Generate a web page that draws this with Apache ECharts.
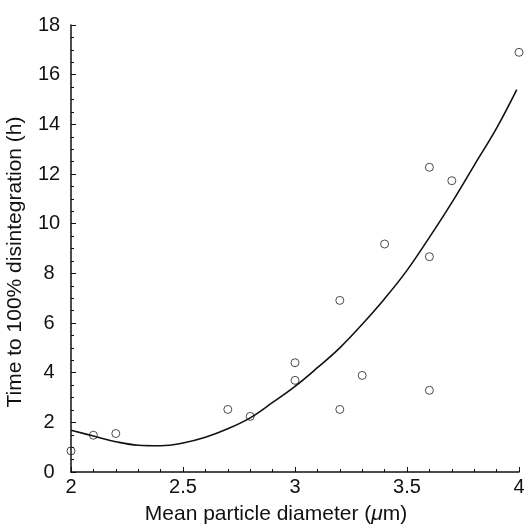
<!DOCTYPE html>
<html>
<head>
<meta charset="utf-8">
<script src="https://cdn.jsdelivr.net/npm/echarts@6/dist/echarts.min.js"></script>
<style>html,body{margin:0;padding:0;background:#fff}#c{width:524px;height:524px}</style>
</head>
<body>
<div id="c"></div>
<script>
// Observed data (mean particle diameter, time to 100% disintegration)
const pointX = [2.0, 2.1, 2.2, 2.7, 2.8, 3.0, 3.0, 3.2, 3.2, 3.3, 3.4, 3.6, 3.6, 3.6, 3.7, 4.0];
const pointY = [0.85, 1.48, 1.55, 2.52, 2.24, 4.40, 3.69, 6.91, 2.52, 3.89, 9.18, 12.27, 8.67, 3.29, 11.73, 16.9];
// Fitted curve
const curveX = [2.0, 2.1, 2.2, 2.3, 2.4, 2.5, 2.6, 2.7, 2.8, 2.9, 3.0, 3.1, 3.2, 3.3, 3.4, 3.5, 3.6, 3.7, 3.8, 3.9, 3.99];
const curveY = [1.68, 1.45, 1.22, 1.08, 1.06, 1.17, 1.40, 1.74, 2.18, 2.80, 3.45, 4.20, 5.00, 5.95, 6.98, 8.12, 9.45, 10.85, 12.35, 13.85, 15.40];
const xTicks = ['2', '2.5', '3', '3.5', '4'];

const chart = echarts.init(document.getElementById('c'), null, {renderer: 'canvas'});
const font = 'Liberation Sans, Arial, Helvetica, sans-serif';
chart.setOption({
  backgroundColor: '#fff',
  animation: false,
  grid: {left: 71, right: 5, top: 25, bottom: 52, containLabel: false, outerBoundsMode: 'none'},
  xAxis: {
    type: 'value', min: 2, max: 4, interval: 0.5,
    name: 'Mean particle diameter ({mu|μ}m)',
    nameLocation: 'middle', nameGap: 32,
    nameTextStyle: {fontFamily: font, fontSize: 21, color: '#111', padding: [0, 38, 0, 0],
      rich: {mu: {fontStyle: 'italic', fontFamily: font, fontSize: 21, color: '#111'}}},
    axisLine: {lineStyle: {color: '#111', width: 1.5}},
    axisTick: {inside: true, length: 5, lineStyle: {color: '#111'}},
    minorTick: {show: true, splitNumber: 5, length: 3, lineStyle: {color: '#111'}},
    splitLine: {show: false},
    axisLabel: {fontFamily: font, fontSize: 20, color: '#111', margin: 5, showMaxLabel: true,
      formatter: v => { const s = String(v); return xTicks.includes(s) ? s : ''; }}
  },
  yAxis: {
    type: 'value', min: 0, max: 18, interval: 2,
    name: 'Time to 100% disintegration (h)',
    nameLocation: 'middle', nameGap: 45,
    nameTextStyle: {fontFamily: font, fontSize: 21, color: '#111', padding: [0, 27, 0, 0]},
    axisLine: {show: true, lineStyle: {color: '#111', width: 1.5}},
    axisTick: {show: true, inside: true, length: 5, lineStyle: {color: '#111'}},
    minorTick: {show: true, splitNumber: 4, length: 3, lineStyle: {color: '#111'}},
    splitLine: {show: false},
    axisLabel: {fontFamily: font, fontSize: 20, color: '#111', margin: 22, align: 'center'}
  },
  series: [
    {
      type: 'line', data: curveX.map((x, i) => [x, curveY[i]]),
      smooth: 0.4, symbol: 'none',
      lineStyle: {color: '#111', width: 1.6}
    },
    {
      type: 'scatter', data: pointX.map((x, i) => [x, pointY[i]]),
      symbol: 'circle', symbolSize: 8,
      itemStyle: {color: 'rgba(255,255,255,0)', borderColor: '#222', borderWidth: 1}
    }
  ]
});
</script>
</body>
</html>
